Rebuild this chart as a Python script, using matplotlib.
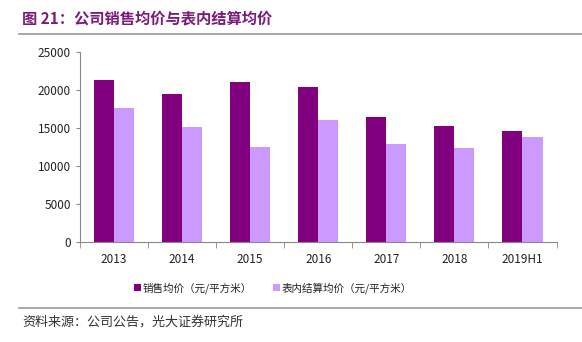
import numpy as np
import matplotlib.pyplot as plt

plt.rcParams['font.family'] = ['Noto Sans CJK SC', 'DejaVu Sans']

categories = ['2013', '2014', '2015', '2016', '2017', '2018', '2019H1']
sales_price = [21350, 19450, 21100, 20450, 16450, 15300, 14600]
settle_price = [17600, 15100, 12450, 16050, 12900, 12400, 13750]
series_names = ['销售均价（元/平方米）', '表内结算均价（元/平方米）']
colors = ['#800080', '#CC99FF']

fig = plt.figure(figsize=(5.82, 3.42), dpi=100)
ax = fig.add_axes([80 / 582, 1 - 241.7 / 342, 476.5 / 582, 189.7 / 342])

x = np.arange(len(categories))
w = 0.295
ax.bar(x - w / 2, sales_price, w, color=colors[0], label=series_names[0])
ax.bar(x + w / 2, settle_price, w, color=colors[1], label=series_names[1])

ax.set_xlim(-0.5, len(categories) - 0.5)
ax.set_ylim(0, 25000)
ax.set_yticks(range(0, 25001, 5000))
ax.set_xticks(x)
ax.set_xticklabels(categories)
ax.set_xticks(np.arange(-0.5, len(categories), 1), minor=True)
ax.tick_params(axis='x', which='major', length=0, pad=8, labelsize=8.5, colors='#222222')
ax.tick_params(axis='x', which='minor', length=4, color='#888888')
ax.tick_params(axis='y', length=3, color='#888888', labelsize=8.5, labelcolor='#222222')
for s in ['top', 'right']:
    ax.spines[s].set_visible(False)
for s in ['left', 'bottom']:
    ax.spines[s].set_color('#888888')

leg = ax.legend(loc='center', bbox_to_anchor=(0.405, -0.245), ncol=2, frameon=False,
                fontsize=7.6, handlelength=0.65, handleheight=0.65, handletextpad=0.15,
                columnspacing=2.0)
for t in leg.get_texts():
    t.set_color('#222222')

fig.text(22 / 582, 1 - 18 / 342, '图 21：公司销售均价与表内结算均价', fontsize=11,
         fontweight='bold', color='#7B1A7B', va='center', ha='left')
fig.add_artist(plt.Line2D([19 / 582, 1], [1 - 34 / 342] * 2, color='#999999', lw=1.2))
fig.add_artist(plt.Line2D([19 / 582, 1], [1 - 308 / 342] * 2, color='#999999', lw=1.2))
fig.text(22 / 582, 1 - 322 / 342, '资料来源：公司公告，光大证券研究所', fontsize=9.4,
         color='#333333', va='center', ha='left')

fig.savefig('out.png', dpi=100)
